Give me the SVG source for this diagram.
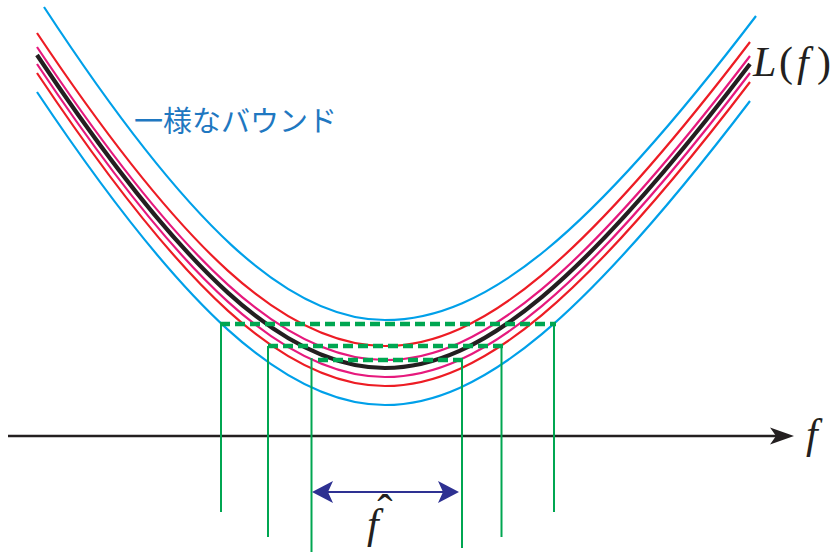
<svg xmlns="http://www.w3.org/2000/svg" width="836" height="552" viewBox="0 0 836 552">
<style>
.c{fill:none;stroke-linecap:butt}
.cy{stroke:#00a0e9;stroke-width:2.2}
.rd{stroke:#ed1c24;stroke-width:2.2}
.pk{stroke:#e6197d;stroke-width:2.2}
.bk{stroke:#231f20;stroke-width:4.2}
.gv{stroke:#00a651;stroke-width:2;fill:none}
.gd{stroke:#00a651;stroke-width:4.5;stroke-dasharray:10 5;fill:none}
.math{font-family:"Liberation Serif","DejaVu Serif",serif;fill:#231f20}
.it{font-style:italic}
</style>
<defs>
<path id="L" d="M37,55 C182,271.9 285.5,368 385,368 C481.5,368 585,280.3 750,64"/>
</defs>
<g id="curves">
<path id="bound-upper" class="c cy" d="M44,7 C186.1,223.9 287.5,320 385,320 C486,320 590,234 756,16"/>
<use href="#L" class="c cy" transform="translate(0,37)"/>
<use href="#L" class="c rd" transform="translate(0,-22)"/>
<use href="#L" class="c rd" transform="translate(0,18)"/>
<use href="#L" class="c pk" transform="translate(0,-8)"/>
<use href="#L" class="c pk" transform="translate(0,9)"/>
<use href="#L" class="c bk"/>
</g>
<g id="axis">
<line x1="8" y1="436" x2="778" y2="436" stroke="#231f20" stroke-width="2.5"/>
<path d="M794,436 L770,427.5 L776,436 L770,444.5 Z" fill="#231f20"/>
</g>
<g id="connectors">
<line class="gd" x1="220" y1="324" x2="556" y2="324"/>
<line class="gd" x1="268" y1="346" x2="503" y2="346"/>
<line class="gd" x1="318" y1="360" x2="463" y2="360"/>
<line class="gv" x1="221" y1="324" x2="221" y2="512"/>
<line class="gv" x1="554" y1="324" x2="554" y2="512"/>
<line class="gv" x1="268" y1="346" x2="268" y2="537"/>
<line class="gv" x1="501.5" y1="346" x2="501.5" y2="537"/>
<line class="gv" x1="311.5" y1="358" x2="311.5" y2="552"/>
<line class="gv" x1="462" y1="360" x2="462" y2="548"/>
</g>
<g id="fhat-arrow">
<line x1="320" y1="492" x2="451" y2="492" stroke="#2e3192" stroke-width="2.2"/>
<path d="M312,492 L333,481 L328,492 L333,503 Z" fill="#2e3192"/>
<path d="M459,492 L438,481 L443,492 L438,503 Z" fill="#2e3192"/>
</g>
<g id="labels">
<text x="134" y="132" font-family="'Noto Sans CJK JP','Noto Sans',sans-serif" font-size="29" fill="#1f78c1">一様なバウンド</text>
<text class="math" y="76" font-size="42"><tspan class="it" x="753">L</tspan><tspan x="779">(</tspan><tspan class="it" x="797">f</tspan><tspan x="817">)</tspan></text>
<text class="math it" x="806" y="448" font-size="42">f</text>
<text class="math it" x="367" y="538" font-size="42">f</text>
<text class="math" x="385" y="527" font-size="46" text-anchor="middle">ˆ</text>
</g>
</svg>
